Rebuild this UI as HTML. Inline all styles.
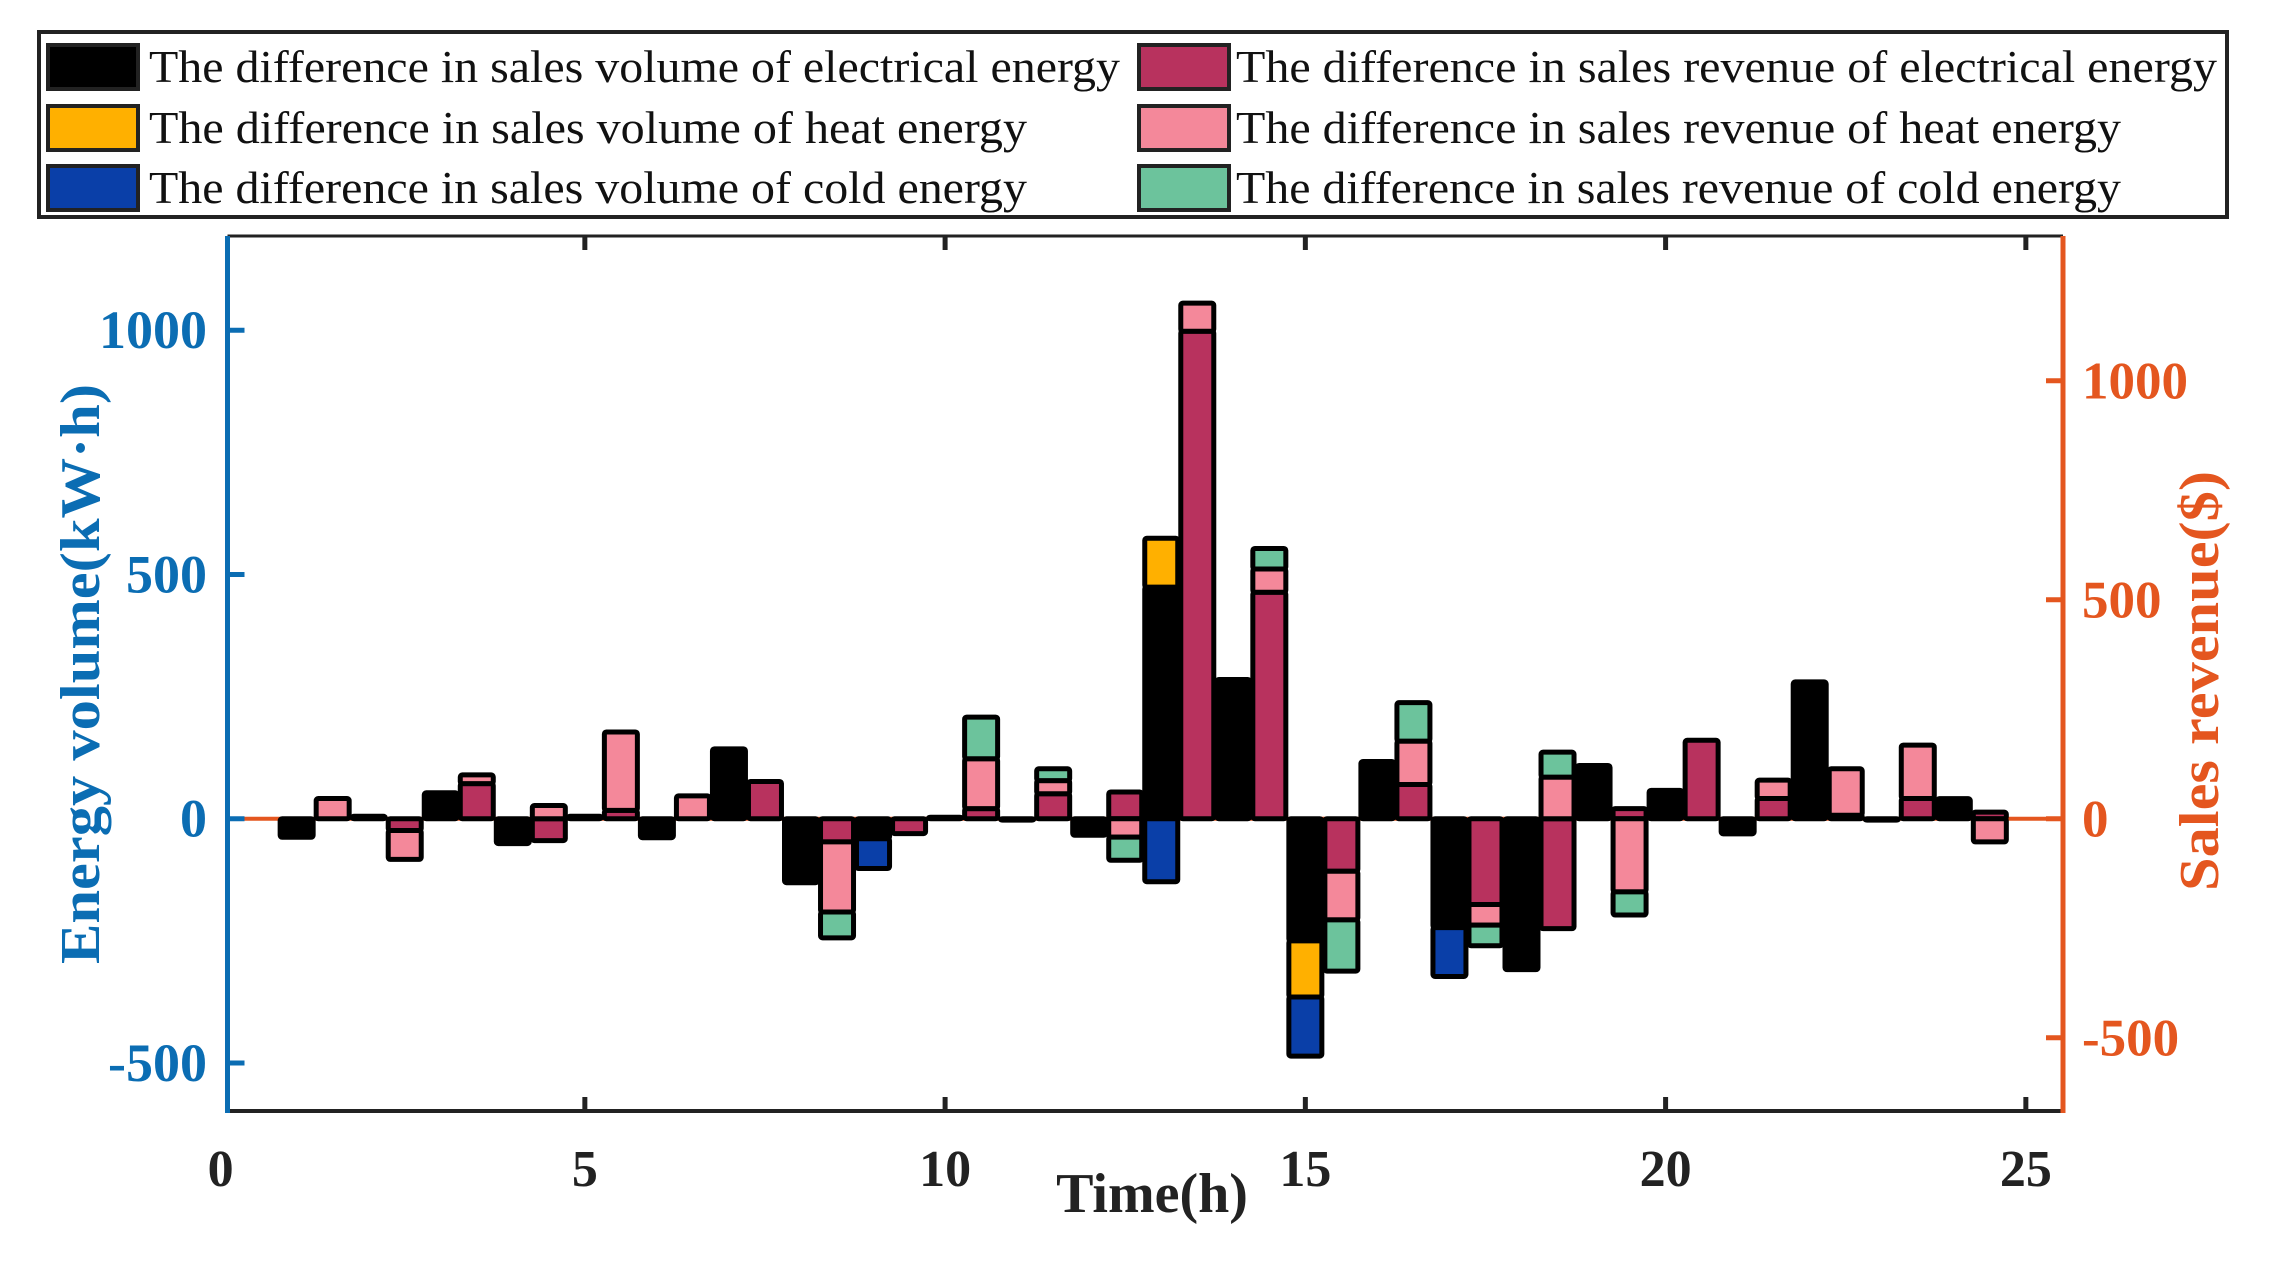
<!DOCTYPE html>
<html><head><meta charset="utf-8"><style>
html,body{margin:0;padding:0;background:#fff;}
svg{display:block;}
</style></head><body>
<svg id="chart" width="2272" height="1271" viewBox="0 0 2272 1271" xmlns="http://www.w3.org/2000/svg">
<rect x="0" y="0" width="2272" height="1271" fill="#fff"/>
<g id="legend"></g>
<g id="plot"></g>
</svg>
<script>
const hours = [1,2,3,4,5,6,7,8,9,10,11,12,13,14,15,16,17,18,19,20,21,22,23,24];
const volElec = [-38,5,53,-51,5,-39,143,-131,-41,3,-3,-34,474,285,-250,117,-223,-309,109,58,-31,280,-3,41];
const volHeat = [0,0,0,0,0,0,0,0,0,0,0,0,100,0,-115,0,0,0,0,0,0,0,0,0];
const volCold = [0,0,0,0,0,0,0,0,-61,0,0,0,-129,0,-121,0,-100,0,0,0,0,0,0,0];
const revHours = [1.5,2.5,3.5,4.5,5.5,6.5,7.5,8.5,9.5,10.5,11.5,12.5,13.5,14.5,15.5,16.5,17.5,18.5,19.5,20.5,21.5,22.5,23.5,24.5];
const revElec = [0,-27,80,-50,19,0,85,-53,-34,23,57,61,1113,517,-120,78,-196,-251,23,179,46,8,46,15];
const revHeat = [46,-66,20,30,179,52,0,-160,0,114,30,-42,64,53,-111,99,-47,95,-167,0,42,106,122,-53];
const revCold = [0,0,0,0,0,0,0,-59,0,95,27,-53,0,47,-117,88,-47,57,-53,0,0,0,0,0];
const xTicks = [0,5,10,15,20,25];
const leftTicks = [-500,0,500,1000];
const rightTicks = [-500,0,500,1000];

const NS='http://www.w3.org/2000/svg';
const L=227.5,R=2063,T=236,B=1111,ZERO=818.7;
const X=v=>224.6+v*72.05;
const YL=v=>ZERO-v*0.4885;
const YR=v=>ZERO-v*0.438;
const BLUE='#0b6db3',ORANGE='#e4561f';
const colV=['#000000','#ffb000','#0a3fa8'];
const colR=['#b8325e','#f4889a','#6cc39c'];
function mk(tag,attrs,parent,text){const e=document.createElementNS(NS,tag);for(const k in attrs)e.setAttribute(k,attrs[k]);if(text!==undefined)e.textContent=text;parent.appendChild(e);return e;}
const plot=document.getElementById('plot');
const lg=document.getElementById('legend');

let e=mk('line',{x1:L,y1:T,x2:R,y2:T,stroke:'#222','stroke-width':3},plot);

e=mk('line',{x1:L,y1:B,x2:R,y2:B,stroke:'#222','stroke-width':4},plot);

e=mk('line',{x1:L,y1:ZERO,x2:R,y2:ZERO,stroke:ORANGE,'stroke-width':4},plot);


xTicks.forEach(t=>{
  if(t>0){
  e=mk('line',{x1:X(t),y1:B,x2:X(t),y2:B-14,stroke:'#222','stroke-width':5},plot);
  
  e=mk('line',{x1:X(t),y1:T,x2:X(t),y2:T+14,stroke:'#222','stroke-width':5},plot);
  }
  e=mk('text',{x:X(t)-(t===0?4:0),y:1186,'text-anchor':'middle','font-family':'Liberation Serif, serif','font-weight':'bold','font-size':52,fill:'#222'},plot,String(t));
  
});

function drawBar(x,vals,cols,yf,name){
  const w=33;let pos=0,neg=0;const segs=[];
  vals.forEach((v,i)=>{if(v===0)return;let a,b;if(v>0){a=pos;b=pos+v;pos=b;}else{a=neg;b=neg+v;neg=b;}segs.push([a,b,cols[i]]);});
  segs.forEach(s=>{
    const y1=yf(Math.max(s[0],s[1])),y2=yf(Math.min(s[0],s[1]));
    const r=mk('rect',{x:X(x)-w/2,y:y1,width:w,height:Math.max(y2-y1,1),fill:s[2],stroke:'#000','stroke-width':5,rx:2},plot);
    
    
  });
}
hours.forEach((h,i)=>drawBar(h,[volElec[i],volHeat[i],volCold[i]],colV,YL,'volume-bar'));
revHours.forEach((h,i)=>drawBar(h,[revElec[i],revHeat[i],revCold[i]],colR,YR,'revenue-bar'));

e=mk('line',{x1:L,y1:T,x2:L,y2:B+2,stroke:BLUE,'stroke-width':5},plot);

leftTicks.forEach(t=>{
  e=mk('line',{x1:L,y1:YL(t),x2:L+17,y2:YL(t),stroke:BLUE,'stroke-width':5},plot);
  
  e=mk('text',{x:207,y:YL(t)+18,'text-anchor':'end','font-family':'Liberation Serif, serif','font-weight':'bold','font-size':54,fill:BLUE},plot,String(t));
  
});
e=mk('text',{x:0,y:0,transform:'translate(99,674) rotate(-90)','text-anchor':'middle','font-family':'Liberation Serif, serif','font-weight':'bold','font-size':56,fill:BLUE,textLength:580,lengthAdjust:'spacingAndGlyphs'},plot,'Energy volume(kW·h)');


e=mk('line',{x1:R,y1:T,x2:R,y2:B+2,stroke:ORANGE,'stroke-width':5},plot);

rightTicks.forEach(t=>{
  e=mk('line',{x1:R,y1:YR(t),x2:R-17,y2:YR(t),stroke:ORANGE,'stroke-width':5},plot);
  
  e=mk('text',{x:2082,y:YR(t)+18,'text-anchor':'start','font-family':'Liberation Serif, serif','font-weight':'bold','font-size':53,fill:ORANGE},plot,String(t));
  
});
e=mk('text',{x:0,y:0,transform:'translate(2218,681) rotate(-90)','text-anchor':'middle','font-family':'Liberation Serif, serif','font-weight':'bold','font-size':56,fill:ORANGE,textLength:420,lengthAdjust:'spacingAndGlyphs'},plot,'Sales revenue($)');


e=mk('text',{x:1152,y:1212,'text-anchor':'middle','font-family':'Liberation Serif, serif','font-weight':'bold','font-size':56,fill:'#222'},plot,'Time(h)');


e=mk('rect',{x:39,y:32,width:2188,height:185,fill:'#fff',stroke:'#222','stroke-width':4},lg);

const legendLabels=['The difference in sales volume of electrical energy','The difference in sales volume of heat energy','The difference in sales volume of cold energy','The difference in sales revenue of electrical energy','The difference in sales revenue of heat energy','The difference in sales revenue of cold energy'];
const legendCols=colV.concat(colR);
const rowsY=[67,128,188];
legendLabels.forEach((lab,i)=>{
  const col=i<3?0:1,row=i%3;
  const sx=col?1139:48,tx=col?1236:149;
  const g=mk('g',{},lg);
  
  
  mk('rect',{x:sx,y:rowsY[row]-22,width:90,height:44,fill:legendCols[i],stroke:'#222','stroke-width':4},g);
  mk('text',{x:tx,y:rowsY[row]+15,'font-family':'Liberation Serif, serif','font-size':46,fill:'#111',textLength:col?(row===0?981:885):(row===0?971:878),lengthAdjust:'spacingAndGlyphs'},g,lab);
});
</script>
</body></html>
